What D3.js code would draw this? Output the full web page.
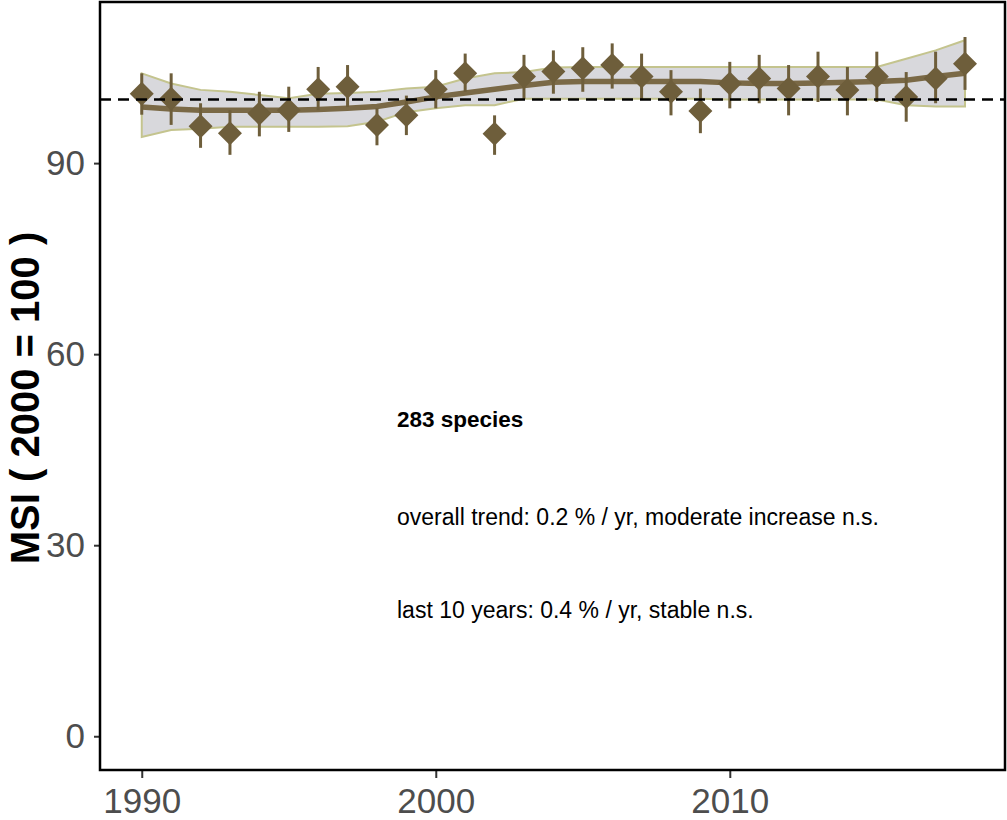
<!DOCTYPE html>
<html>
<head>
<meta charset="utf-8">
<script src="https://cdn.jsdelivr.net/npm/d3@7/dist/d3.min.js"></script>
<style>
  html, body { margin: 0; padding: 0; background: #fff; }
  svg { display: block; }
</style>
</head>
<body>
<div id="chart"></div>
<script>
const years = d3.range(1990, 2019);
const msiIndex = [100.9, 100.1, 95.8, 94.7, 97.8, 98.3, 101.6, 102.0, 96.0, 97.5, 101.6, 104.1, 94.6, 103.6, 104.4, 104.9, 105.4, 103.6, 101.2, 98.2, 102.5, 103.3, 101.7, 103.6, 101.5, 103.6, 100.4, 103.3, 105.6];
const errLower = [97.6, 96.0, 92.4, 91.3, 94.2, 94.9, 98.3, 98.8, 92.8, 94.4, 98.6, 101.2, 91.3, 100.1, 100.9, 101.2, 101.7, 99.9, 97.5, 94.7, 98.6, 99.4, 97.5, 99.6, 97.5, 99.6, 96.5, 99.4, 101.5];
const errUpper = [104.1, 104.1, 99.4, 98.3, 101.2, 102.0, 105.1, 105.4, 98.6, 100.6, 104.6, 107.2, 97.5, 107.0, 107.7, 108.2, 108.8, 107.2, 104.6, 101.7, 105.9, 107.0, 105.4, 107.5, 105.1, 107.5, 104.3, 107.5, 109.8];
const trend = [98.8, 98.5, 98.3, 98.3, 98.3, 98.3, 98.4, 98.6, 98.9, 99.6, 100.4, 101.0, 101.6, 102.2, 102.7, 102.8, 102.8, 102.8, 102.8, 102.8, 102.6, 102.5, 102.5, 102.6, 102.7, 102.8, 103.0, 103.6, 104.1];
const bandLower = [94.1, 95.2, 95.4, 95.7, 95.7, 95.7, 95.7, 95.8, 96.5, 98.0, 98.6, 99.1, 99.1, 100.1, 100.1, 100.1, 100.1, 100.1, 100.1, 100.1, 100.0, 100.0, 100.0, 100.0, 100.0, 100.0, 99.1, 98.9, 98.9];
const bandUpper = [104.1, 102.5, 101.5, 101.2, 100.7, 100.2, 100.9, 101.0, 101.2, 101.7, 102.0, 103.3, 104.1, 104.3, 105.0, 105.1, 105.1, 105.1, 105.1, 105.1, 105.1, 105.1, 105.1, 105.1, 105.1, 105.1, 106.4, 107.7, 109.3];
const yTicks = [0, 30, 60, 90];
const xTicks = [1990, 2000, 2010];
const baseline = 100;
const yTitle = "MSI ( 2000 = 100 )";
const notes = ["283 species", "overall trend: 0.2 % / yr, moderate increase n.s.", "last 10 years: 0.4 % / yr, stable n.s."];

const W = 1007, H = 820;
const m = { left: 100, right: 2, top: 2, bottom: 50 };
const iw = W - m.left - m.right, ih = H - m.top - m.bottom;

const data = years.map((y, i) => ({
  year: y, v: msiIndex[i], lo: errLower[i], hi: errUpper[i],
  t: trend[i], bl: bandLower[i], bh: bandUpper[i]
}));

const x = d3.scaleLinear().domain([1988.58, 2019.36]).range([0, iw]);
const y = d3.scaleLinear().domain([-5.3, 115.3]).range([ih, 0]);

const svg = d3.select("#chart").append("svg").attr("width", W).attr("height", H);
const g = svg.append("g").attr("transform", `translate(${m.left},${m.top})`);

const brown = "#6e5e3b";

// band
g.append("path").datum(data)
  .attr("d", d3.area().x(d => x(d.year)).y0(d => y(d.bl)).y1(d => y(d.bh)))
  .attr("fill", "#d8d8dc").attr("stroke", "#c4c48e").attr("stroke-width", 2);

// trend line
g.append("path").datum(data)
  .attr("d", d3.line().x(d => x(d.year)).y(d => y(d.t)))
  .attr("fill", "none").attr("stroke", "#7a6946").attr("stroke-width", 5.5);

// error bars
g.selectAll(".err").data(data).join("line")
  .attr("x1", d => x(d.year)).attr("x2", d => x(d.year))
  .attr("y1", d => y(d.lo)).attr("y2", d => y(d.hi))
  .attr("stroke", brown).attr("stroke-width", 3);

// diamonds
const s = 12;
g.selectAll(".pt").data(data).join("path")
  .attr("d", d => {
    const cx = x(d.year), cy = y(d.v);
    return `M${cx},${cy - s}L${cx + s},${cy}L${cx},${cy + s}L${cx - s},${cy}Z`;
  })
  .attr("fill", brown);

// dashed reference line
g.append("line")
  .attr("x1", 0).attr("x2", iw)
  .attr("y1", y(baseline)).attr("y2", y(baseline))
  .attr("stroke", "#000").attr("stroke-width", 2.5)
  .attr("stroke-dasharray", "11,7");

// axes
const fontFam = "'Liberation Sans', Arial, sans-serif";
const ax = g.append("g").attr("transform", `translate(0,${ih})`)
  .call(d3.axisBottom(x).tickValues(xTicks).tickFormat(d3.format("d")).tickSize(8).tickPadding(10));
const ay = g.append("g")
  .call(d3.axisLeft(y).tickValues(yTicks).tickSize(6).tickPadding(9));
[ax, ay].forEach(a => {
  a.select(".domain").remove();
  a.selectAll(".tick line").attr("stroke", "#333").attr("stroke-width", 2);
  a.selectAll(".tick text").attr("fill", "#4d4d4d").style("font-family", fontFam).style("font-size", "35px");
});

// panel border
g.append("rect").attr("x", 0).attr("y", 0).attr("width", iw).attr("height", ih)
  .attr("fill", "none").attr("stroke", "#000").attr("stroke-width", 2.5);

// y title
svg.append("text")
  .attr("transform", `translate(39,398) rotate(-90)`)
  .attr("text-anchor", "middle")
  .style("font-family", fontFam).style("font-size", "40px").style("font-weight", "bold")
  .attr("fill", "#000").text(yTitle);

// annotations
const noteY = [427, 525, 618];
notes.forEach((t, i) => {
  svg.append("text").attr("x", 397).attr("y", noteY[i])
    .style("font-family", fontFam).style("font-size", i === 0 ? "22.5px" : "23px")
    .style("font-weight", i === 0 ? "bold" : "normal")
    .attr("fill", "#000").text(t);
});
</script>
</body>
</html>
